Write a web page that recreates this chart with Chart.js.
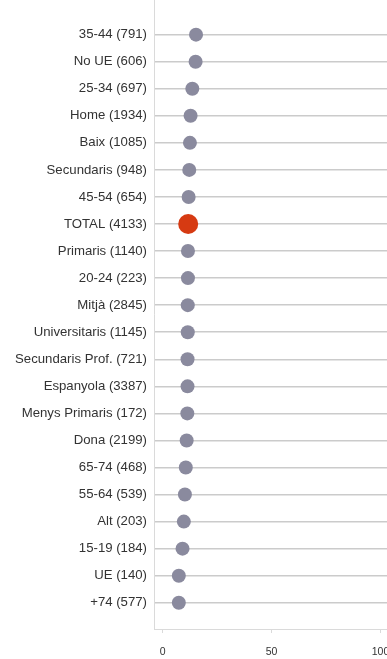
<!DOCTYPE html>
<html>
<head>
<meta charset="utf-8">
<script src="https://cdn.jsdelivr.net/npm/chart.js@4"></script>
<style>
  html, body { margin: 0; padding: 0; background: #fff; }
  #wrap { width: 387px; height: 659px; position: relative; }
</style>
</head>
<body>
<div id="wrap"><canvas id="dotChart"></canvas></div>
<script>
const groups = ["35-44", "No UE", "25-34", "Home", "Baix", "Secundaris", "45-54", "TOTAL",
  "Primaris", "20-24", "Mitjà", "Universitaris", "Secundaris Prof.", "Espanyola",
  "Menys Primaris", "Dona", "65-74", "55-64", "Alt", "15-19", "UE", "+74"];
const counts = [791, 606, 697, 1934, 1085, 948, 654, 4133, 1140, 223, 2845, 1145, 721, 3387,
  172, 2199, 468, 539, 203, 184, 140, 577];
const values = [15.3, 15.1, 13.6, 12.8, 12.5, 12.2, 11.9, 11.7, 11.6, 11.6, 11.5, 11.5, 11.4,
  11.4, 11.3, 11.0, 10.6, 10.2, 9.7, 9.1, 7.4, 7.4];
const xTicks = [0, 50, 100];

const COLORS = { dot: "#8a8a9e", total: "#d63a12", grid: "#cbcbcb", axis: "#dadada", text: "#333" };

const labels = groups.map((g, i) => `${g} (${counts[i]})`);
const isTotal = (i) => groups[i] === "TOTAL";

const ctx = document.getElementById("dotChart");
new Chart(ctx, {
  type: "scatter",
  data: {
    datasets: [{
      data: values.map((v, i) => ({ x: v, y: i })),
      pointRadius: values.map((_, i) => (isTotal(i) ? 10 : 7)),
      pointHoverRadius: values.map((_, i) => (isTotal(i) ? 10 : 7)),
      backgroundColor: values.map((_, i) => (isTotal(i) ? COLORS.total : COLORS.dot)),
      borderColor: values.map((_, i) => (isTotal(i) ? COLORS.total : COLORS.dot)),
      borderWidth: 0,
    }],
  },
  options: {
    responsive: true,
    maintainAspectRatio: false,
    animation: false,
    layout: { padding: 0, autoPadding: false },
    plugins: { legend: { display: false }, tooltip: { enabled: false } },
    scales: {
      x: {
        type: "linear",
        min: -4,
        max: 103,
        afterBuildTicks: (scale) => { scale.ticks = xTicks.map((v) => ({ value: v })); },
        afterFit: (scale) => { scale.height = 30; scale.paddingRight = 0; scale.paddingLeft = 0; },
        grid: { drawOnChartArea: false, drawTicks: true, tickLength: 4, color: COLORS.axis },
        border: { display: true, color: COLORS.axis, width: 1 },
        ticks: { color: COLORS.text, padding: 13, font: { family: "Liberation Sans, Arial", size: 10.5 }, maxRotation: 0 },
      },
      y: {
        type: "linear",
        reverse: true,
        min: -1.28,
        max: 21.97,
        afterBuildTicks: (scale) => { scale.ticks = labels.map((_, i) => ({ value: i })); },
        afterFit: (scale) => { scale.width = 154; scale.paddingTop = 0; scale.paddingBottom = 0; },
        grid: { drawTicks: false, color: COLORS.grid, lineWidth: 1.5 },
        border: { display: true, color: COLORS.axis, width: 1 },
        ticks: {
          color: COLORS.text,
          padding: 7,
          font: { family: "Liberation Sans, Arial", size: 13.2 },
          callback: (v) => labels[v] ?? "",
        },
      },
    },
  },
});
</script>
</body>
</html>
